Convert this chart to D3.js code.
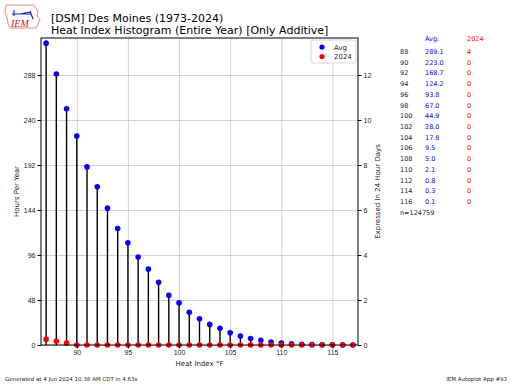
<!DOCTYPE html>
<html>
<head>
<meta charset="utf-8">
<script src="https://cdn.jsdelivr.net/npm/d3@7"></script>
<style>
body{margin:0;background:#fff;}
svg{font-family:"DejaVu Sans",sans-serif;}
.grid line{stroke:#c8c8c8;stroke-width:0.8;}
.grid path{display:none;}
.axis text{font-size:7px;fill:#222;}
.axis path,.axis line{stroke:#000;}
</style>
</head>
<body>
<svg id="chart" width="512" height="384"></svg>
<script>
const temps = d3.range(87,118);
const avgHours = [322,289.1,252,223.0,190,168.7,146,124.2,109,93.8,81,67.0,53,44.9,35,28.0,22,17.8,13,9.5,7,5.0,3.2,2.1,1.3,0.8,0.5,0.3,0.2,0.1,0.05];
const yearHours = [6,4,2,0,0,0,0,0,0,0,0,0,0,0,0,0,0,0,0,0,0,0,0,0,0,0,0,0,0,0,0];
const yTicks = [0,48,96,144,192,240,288];
const dayTicks = [0,2,4,6,8,10,12];
const xTicks = [90,95,100,105,110,115];
const tableTemps = [88,90,92,94,96,98,100,102,104,106,108,110,112,114,116];
const tableAvg = ['289.1','223.0','168.7','124.2','93.8','67.0','44.9','28.0','17.8','9.5','5.0','2.1','0.8','0.3','0.1'];
const tableYear = ['4','0','0','0','0','0','0','0','0','0','0','0','0','0','0'];
const nObs = 124759;

const svg = d3.select('#chart');
const pLeft = 41, pRight = 358, pTop = 38, pBottom = 345;

const x = d3.scaleLinear().domain([86.5,117.5]).range([pLeft,pRight]);
const y = d3.scaleLinear().domain([0,327.5]).range([pBottom,pTop]);
const yDays = d3.scaleLinear().domain([0,327.5/24]).range([pBottom,pTop]);

// grid
svg.append('g').attr('class','grid')
	.attr('transform','translate(0,'+pBottom+')')
	.call(d3.axisBottom(x).tickValues(xTicks).tickSize(-(pBottom-pTop)).tickFormat(''));
svg.append('g').attr('class','grid')
	.attr('transform','translate('+pLeft+',0)')
	.call(d3.axisLeft(y).tickValues(yTicks).tickSize(-(pRight-pLeft)).tickFormat(''));

// stems
svg.append('g').selectAll('line')
	.data(temps)
	.join('line')
		.attr('x1',d=>x(d)).attr('x2',d=>x(d))
		.attr('y1',y(0))
		.attr('y2',(d,i)=>y(avgHours[i]))
		.attr('stroke','#000')
		.attr('stroke-width',1.4);

svg.append('g').selectAll('circle')
	.data(temps)
	.join('circle')
		.attr('cx',d=>x(d))
		.attr('cy',(d,i)=>y(avgHours[i]))
		.attr('r',2.8)
		.attr('fill','#0000ff');
svg.append('g').selectAll('circle')
	.data(temps)
	.join('circle')
		.attr('cx',d=>x(d))
		.attr('cy',(d,i)=>y(yearHours[i]))
		.attr('r',2.8)
		.attr('fill','#ff0000');

// frame
svg.append('rect').attr('x',pLeft).attr('y',pTop).attr('width',pRight-pLeft).attr('height',pBottom-pTop)
	.attr('fill','none').attr('stroke','#000').attr('stroke-width',1);

// axes
svg.append('g').attr('class','axis')
	.attr('transform','translate(0,'+pBottom+')')
	.call(d3.axisBottom(x).tickValues(xTicks).tickSize(3.5).tickPadding(2))
	.call(g=>g.select('.domain').remove());
svg.append('g').attr('class','axis')
	.attr('transform','translate('+pLeft+',0)')
	.call(d3.axisLeft(y).tickValues(yTicks).tickSize(3.5).tickPadding(2))
	.call(g=>g.select('.domain').remove());
svg.append('g').attr('class','axis')
	.attr('transform','translate('+pRight+',0)')
	.call(d3.axisRight(yDays).tickValues(dayTicks).tickSize(3.5).tickPadding(2))
	.call(g=>g.select('.domain').remove());

// axis labels
svg.append('text').attr('x',(pLeft+pRight)/2).attr('y',366).attr('text-anchor','middle')
	.attr('font-size',7).attr('fill','#222').text('Heat Index  \u00b0F');
svg.append('text').attr('transform','translate(19,'+((pTop+pBottom)/2)+') rotate(-90)')
	.attr('text-anchor','middle').attr('font-size',7).attr('fill','#222').text('Hours Per Year');
svg.append('text').attr('transform','translate(380,'+((pTop+pBottom)/2)+') rotate(-90)')
	.attr('text-anchor','middle').attr('font-size',7).attr('fill','#222').text('Expressed In 24 Hour Days');

// legend
const lg = svg.append('g').attr('transform','translate(311,40)');
lg.append('rect').attr('width',45).attr('height',23).attr('rx',2)
	.attr('fill','#fff').attr('fill-opacity',0.8).attr('stroke','#ccc').attr('stroke-width',0.8);
[['Avg','#0000ff'],['2024','#ff0000']].forEach((e,i)=>{
	lg.append('circle').attr('cx',11).attr('cy',7+i*9.5).attr('r',2.6).attr('fill',e[1]);
	lg.append('text').attr('x',23).attr('y',9.5+i*9.5).attr('font-size',7).attr('fill','#222').text(e[0]);
});

// title
svg.append('text').attr('x',51).attr('y',22).attr('font-size',11).attr('fill','#000').text('[DSM] Des Moines (1973-2024)');
svg.append('text').attr('x',51).attr('y',34).attr('font-size',11).attr('fill','#000').text('Heat Index Histogram (Entire Year) [Only Additive]');

// logo
const logo = svg.append('g');
logo.append('path')
	.attr('d','M6,5 L34,5 L36,8 L38,12 L37,16 L40,20 L38,24 L36,28 L10,28 L8,24 L7,18 L5,12 Z')
	.attr('fill','#fff').attr('stroke','#e05050').attr('stroke-width',0.7);
logo.append('path').attr('d','M12,14 L31,14 M14,10 L14,16 M30,11 L33,19 M20,14 L30,12')
	.attr('stroke','#2020c0').attr('stroke-width',1.2).attr('fill','none');
logo.append('text').attr('x',11).attr('y',27).attr('font-family','Liberation Serif,serif')
	.attr('font-style','italic').attr('font-size',10).attr('fill','#d02020').text('IEM');

// table
const tbl = svg.append('g').attr('font-size',6.5);
tbl.append('text').attr('x',425).attr('y',41).attr('fill','#0000ff').text('Avg:');
tbl.append('text').attr('x',467).attr('y',41).attr('fill','#ff0000').text('2024');
tableTemps.forEach((t,i)=>{
	const ty = 54 + i*10.71;
	tbl.append('text').attr('x',400).attr('y',ty).attr('fill','#222').text(t);
	tbl.append('text').attr('x',425).attr('y',ty).attr('fill','#0000ff').text(tableAvg[i]);
	tbl.append('text').attr('x',467).attr('y',ty).attr('fill','#ff0000').text(tableYear[i]);
});
tbl.append('text').attr('x',400).attr('y',54+15*10.71).attr('fill','#222').text('n='+nObs);

// footer
svg.append('text').attr('x',5).attr('y',381).attr('font-size',5.5).attr('fill','#222')
	.text('Generated at 4 Jun 2024 10:38 AM CDT in 4.63s');
svg.append('text').attr('x',507).attr('y',381).attr('text-anchor','end').attr('font-size',5.5).attr('fill','#222')
	.text('IEM Autoplot App #93');
</script>
</body>
</html>
